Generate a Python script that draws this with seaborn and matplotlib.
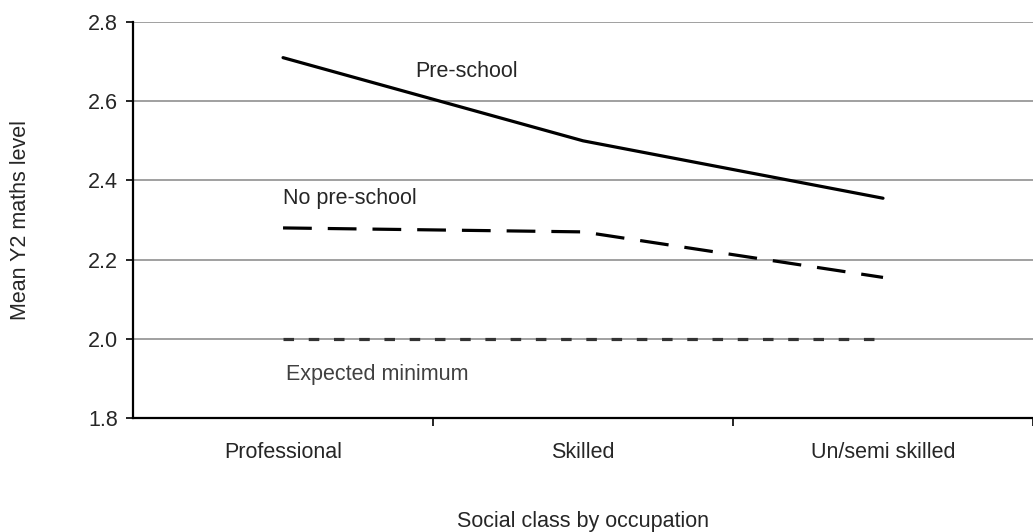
import seaborn as sns
import matplotlib.pyplot as plt
import pandas as pd

# data
classes = ["Professional", "Skilled", "Un/semi skilled"]
pre_school = [2.71, 2.50, 2.355]
no_pre_school = [2.28, 2.27, 2.155]
expected_min = [2.0, 2.0, 2.0]

df = pd.DataFrame({
    "cls": classes * 3,
    "level": pre_school + no_pre_school + expected_min,
    "series": ["Pre-school"] * 3 + ["No pre-school"] * 3 + ["Expected minimum"] * 3,
})

sns.set_theme(style="white")
plt.rcParams['font.family'] = ['Liberation Sans', 'DejaVu Sans']
FS = 15.5

fig = plt.figure(figsize=(10.33, 5.32), dpi=100)
ax = fig.add_axes([0.1288, 0.2143, 0.8712, 0.7443])

ax.yaxis.grid(True, color="#999999", lw=1.3)
ax.set_axisbelow(True)

sns.lineplot(data=df, x="cls", y="level", hue="series", style="series",
             palette={"Pre-school": "black", "No pre-school": "black",
                      "Expected minimum": "#333333"},
             dashes={"Pre-school": "", "No pre-school": (9, 5),
                     "Expected minimum": (3.3, 4.6)},
             sort=False, lw=2.3, legend=False, ax=ax)

ax.set_xlim(-0.5, 2.5)
ax.set_ylim(1.8, 2.8)
ax.set_yticks([1.8, 2.0, 2.2, 2.4, 2.6, 2.8])
ax.set_yticklabels([f"{v:.1f}" for v in [1.8, 2.0, 2.2, 2.4, 2.6, 2.8]])

# category boundary ticks
ax.set_xticks([0.5, 1.5, 2.5], minor=True)
ax.tick_params(axis="x", which="major", length=0, pad=17, labelsize=FS)
ax.tick_params(axis="x", which="minor", length=6, width=1.2, color="black",
               direction="out", bottom=True)
ax.tick_params(axis="y", length=5, width=1.2, color="black", direction="out",
               left=True, labelsize=FS, pad=6)

for s in ["top", "right"]:
    ax.spines[s].set_visible(False)
for s in ["left", "bottom"]:
    ax.spines[s].set_color("black")
    ax.spines[s].set_linewidth(1.6)

ax.set_xlabel("Social class by occupation", fontsize=FS, labelpad=35)
ax.set_ylabel("Mean Y2 maths level", fontsize=FS, labelpad=41)

ax.text(0.44, 2.676, "Pre-school", fontsize=FS, va="center", ha="left")
ax.text(0.0, 2.355, "No pre-school", fontsize=FS, va="center", ha="left")
ax.text(0.01, 1.91, "Expected minimum", fontsize=FS, va="center", ha="left",
        color="#404040")

fig.savefig("out.png", dpi=100)
